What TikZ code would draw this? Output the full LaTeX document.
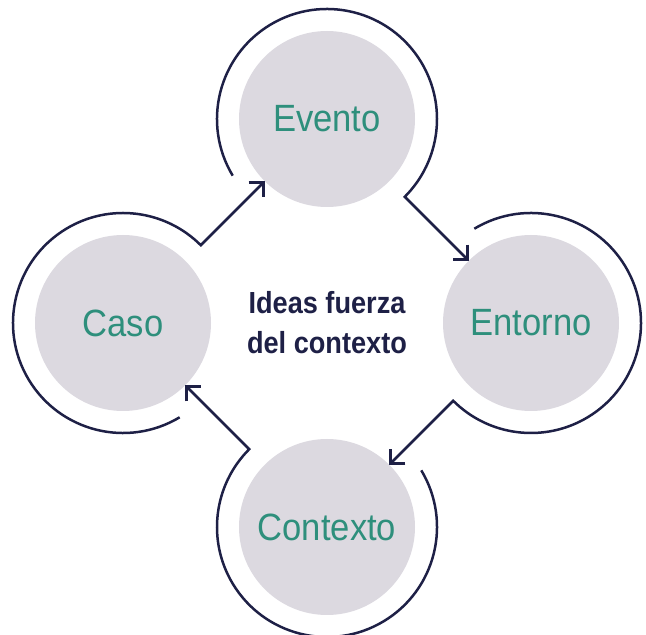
\documentclass[tikz,border=0pt]{standalone}
\usepackage{fontspec}
\usetikzlibrary{arrows.meta,calc}
\newfontfamily\lblfont[FakeStretch=0.91]{Liberation Sans}
\newfontfamily\ctrfont[FakeStretch=0.89]{Liberation Sans}
\definecolor{navyline}{HTML}{1E2046}
\definecolor{tealtext}{HTML}{2E8F7C}
\definecolor{bubblegray}{HTML}{DCD9E0}
\begin{document}
\begin{tikzpicture}[x=1pt,y=1pt,
  bubble/.style={circle, fill=bubblegray, minimum size=176pt, inner sep=0pt, outer sep=0pt,
    text=tealtext, font=\lblfont\fontsize{38}{40}\selectfont},
  cyclearrow/.style={draw=navyline, line width=2.5pt, line join=miter,
    -{Straight Barb[length=10.5pt,width=21pt,line join=miter]}},
  centertext/.style={align=center, text=navyline, inner sep=0pt,
    font=\ctrfont\bfseries\fontsize{30.5}{40}\selectfont}
]
\useasboundingbox (0,0) rectangle (646,635);
\node[bubble] (evento)   at (327,516) {Evento};
\node[bubble] (caso)     at (123,312) {Caso};
\node[bubble] (entorno)  at (531,312) {Entorno};
\node[bubble] (contexto) at (327,108) {Contexto};
\node[centertext] (centro) at (327,312) {Ideas fuerza\\del contexto};
\draw[cyclearrow] ($(caso)+(-59:110pt)$) arc[start angle=-59, end angle=-315, radius=110pt] -- (evento.225);
\draw[cyclearrow] ($(evento)+(211:110pt)$) arc[start angle=211, end angle=-45, radius=110pt] -- (entorno.135);
\draw[cyclearrow] ($(entorno)+(121:110pt)$) arc[start angle=121, end angle=-135, radius=110pt] -- (contexto.45);
\draw[cyclearrow] ($(contexto)+(31:110pt)$) arc[start angle=31, end angle=-225, radius=110pt] -- (caso.-45);
\end{tikzpicture}
\end{document}
